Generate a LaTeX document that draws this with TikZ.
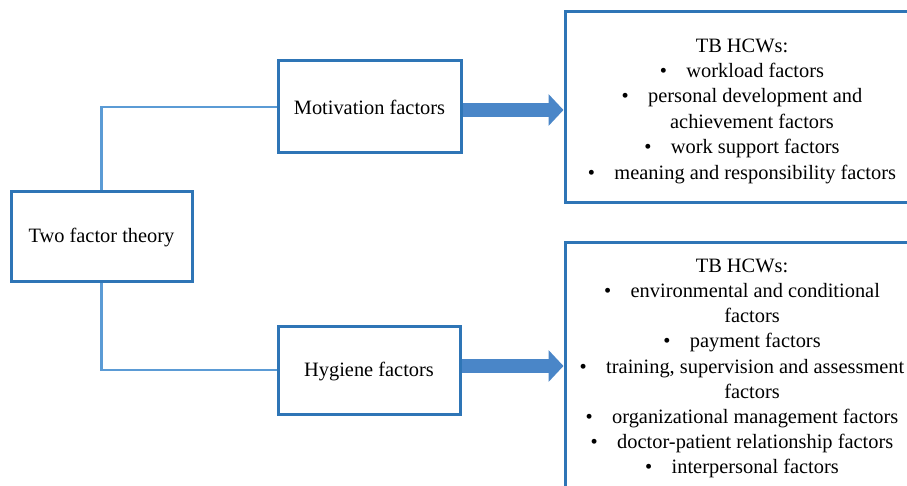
\documentclass[tikz,border=0pt]{standalone}
\usepackage{fontspec}
\setmainfont{Liberation Serif}
\usetikzlibrary{arrows.meta}
\definecolor{boxblue}{HTML}{2E75B6}
\definecolor{connblue}{HTML}{5B9BD5}
\definecolor{arrowblue}{HTML}{4A86C8}
\tikzset{
  factorbox/.style={draw=boxblue, line width=3pt, rectangle, inner sep=0pt,
    font=\fontsize{20.4}{24}\selectfont},
  listtext/.style={align=center, inner sep=0pt},
  conn/.style={draw=connblue, line width=2.6pt},
  bigarrow/.style={draw=arrowblue, line width=14pt,
    -{Triangle[length=15pt,width=31pt]}},
}
\newcommand{\bul}{\textbullet\hspace{0.95em}}
\newcommand{\lowered}[2]{\raisebox{#1}[0pt][0pt]{#2}}
\begin{document}
\begin{tikzpicture}[x=1pt,y=-1pt]
\useasboundingbox (0,0) rectangle (907,486);
\fill[white] (0,0) rectangle (907,486);

\node[factorbox, minimum width=181pt, minimum height=89pt] (two) at (101.5,236.5) {\lowered{-6.2pt}{Two factor theory}};
\node[factorbox, minimum width=183pt, minimum height=92pt] (mot) at (369.5,107) {\lowered{-7.8pt}{Motivation factors}};
\node[factorbox, minimum width=182pt, minimum height=88pt] (hyg) at (369,370) {\lowered{-6.7pt}{Hygiene factors}};

\node[factorbox, minimum width=360pt, minimum height=191pt] (mr) at (745,107.5) {};
\node[factorbox, minimum width=360pt, minimum height=262pt] (hr) at (745,374) {};

\node[listtext, font=\fontsize{20.4}{25.4}\selectfont] (mrtext) at (742,111) {TB HCWs:\\
\bul workload factors\\
\bul personal development and\\
\hspace*{20pt}achievement factors\\
\bul work support factors\\
\bul meaning and responsibility factors};

\node[listtext, font=\fontsize{20.4}{25.2}\selectfont] (hrtext) at (742,368.5) {TB HCWs:\\
\bul environmental and conditional\\
\hspace*{20pt}factors\\
\bul payment factors\\
\bul training, supervision and assessment\\
\hspace*{20pt}factors\\
\bul organizational management factors\\
\bul doctor-patient relationship factors\\
\bul interpersonal factors};

\draw[conn] (two.north) |- (mot.west);
\draw[conn] (two.south) |- (hyg.west);

\draw[bigarrow] ([yshift=-3pt]mot.east) -- ([yshift=-3pt]mot.east -| mr.west);
\draw[bigarrow] ([yshift=4pt]hyg.east) -- ([yshift=4pt]hyg.east -| hr.west);
\end{tikzpicture}
\end{document}
